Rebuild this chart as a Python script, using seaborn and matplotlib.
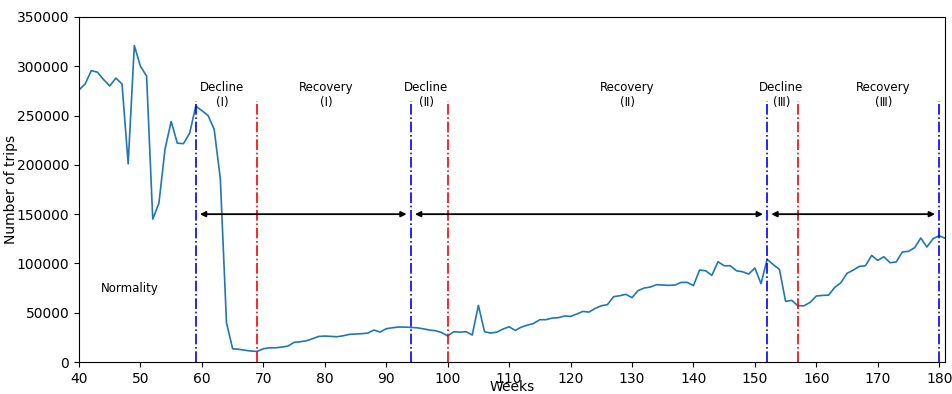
import matplotlib
matplotlib.use("Agg")
import matplotlib.pyplot as plt
import seaborn as sns
import pandas as pd

# Weekly trip counts, weeks 40..181
weeks = list(range(40, 182))
trips = [
    276000, 282000, 295500, 294000, 286500, 280000, 288000, 282000, 201000, 321000,   # 40-49
    300000, 290000, 145000, 161000, 216000, 244000, 222000, 221500, 232000, 259500,   # 50-59
    255000, 250000, 236000, 186000, 40000, 13500, 13000, 12000, 11200, 10800,         # 60-69
    13500, 14500, 14500, 15200, 16200, 20000, 20600, 21600, 23700, 26000,             # 70-79
    26400, 26000, 25700, 26700, 28100, 28400, 28800, 29400, 32500, 30400,             # 80-89
    33800, 34800, 35500, 35500, 35200, 34800, 33800, 32500, 31800, 30100,             # 90-99
    26500, 30800, 30400, 30800, 27400, 57500, 30800, 29400, 30400, 33500,             # 100-109
    35800, 32100, 35500, 37500, 39200, 43000, 43000, 44600, 45000, 46700,             # 110-119
    46300, 48700, 51400, 50700, 54400, 57100, 58200, 66300, 67300, 68700,             # 120-129
    65400, 72500, 75100, 76100, 78500, 78100, 77800, 78100, 80800, 80800,             # 130-139
    77500, 93300, 92600, 87900, 101800, 97700, 97700, 92600, 91600, 89300,            # 140-149
    95400, 79500, 104200, 98800, 94000, 61600, 62600, 57100, 57100, 60600,            # 150-159
    67000, 67600, 67900, 75800, 80500, 90000, 93300, 97000, 97700, 108200,            # 160-169
    103100, 106800, 100800, 101500, 111600, 112300, 116000, 125800, 116700, 125100,   # 170-179
    128100, 125500,                                                                   # 180-181
]

# Phase boundaries
decline_starts = [59, 94, 152, 180]
recovery_starts = [69, 100, 157]
marker_top = 265000

# Phase spans drawn as double-headed arrows
arrow_spans = [(59, 94), (94, 152), (152, 180)]
arrow_level = 150000

# Phase labels
phase_labels = ["Decline\n(Ⅰ)", "Recovery\n(Ⅰ)", "Decline\n(Ⅱ)",
                "Recovery\n(Ⅱ)", "Decline\n(Ⅲ)", "Recovery\n(Ⅲ)"]
phase_label_x = [63.3, 80.3, 96.5, 129.2, 154.3, 170.9]
phase_label_y = 271000

df = pd.DataFrame({"Weeks": weeks, "Number of trips": trips})

fig, ax = plt.subplots(figsize=(9.52, 3.94), dpi=100)
fig.subplots_adjust(left=0.083, right=0.993, bottom=0.081, top=0.957)

sns.lineplot(data=df, x="Weeks", y="Number of trips", ax=ax,
             color="#1f77b4", linewidth=1.2)

ax.vlines(decline_starts, 0, marker_top, colors="blue", linestyles="-.", linewidth=1.2)
ax.vlines(recovery_starts, 0, marker_top, colors="red", linestyles="-.", linewidth=1.2)

for a, b in arrow_spans:
    ax.annotate("", xy=(b, arrow_level), xytext=(a, arrow_level),
                arrowprops=dict(arrowstyle="<|-|>", color="black", lw=1.3,
                                mutation_scale=8, shrinkA=3, shrinkB=3))

for txt, x in zip(phase_labels, phase_label_x):
    ax.text(x, phase_label_y, txt, ha="center", va="center", fontsize=8.5,
            linespacing=1.15)

ax.text(48.3, 75000, "Normality", ha="center", va="center", fontsize=8.5)

ax.set_xlim(40, 181)
ax.set_ylim(0, 350000)
ax.set_xticks(range(40, 181, 10))
ax.set_yticks(range(0, 350001, 50000))
ax.tick_params(labelsize=10)
ax.set_xlabel("Weeks", fontsize=10)
ax.set_ylabel("Number of trips", fontsize=10)
ax.xaxis.set_label_coords(0.5, -0.053)
ax.yaxis.set_label_coords(-0.071, 0.5)

fig.savefig("out.png", dpi=100)
